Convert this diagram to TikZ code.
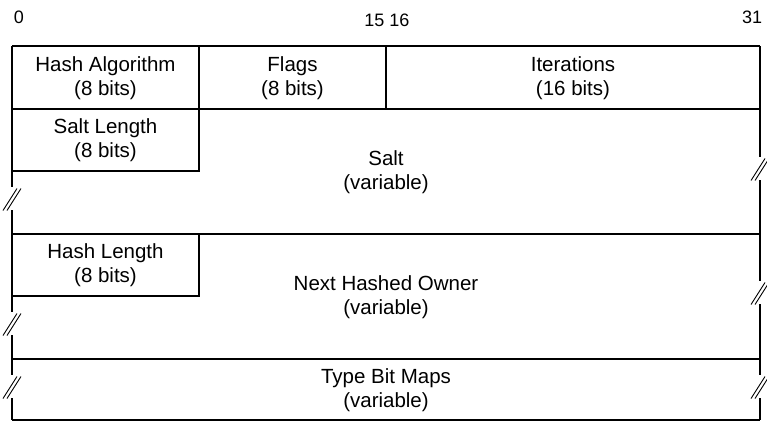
\documentclass[tikz,border=0pt]{standalone}
\usepackage{fontspec}
\setmainfont{Liberation Sans}
\begin{document}
\begin{tikzpicture}[x=1pt,y=-1pt,
  frame/.style={line width=1.3pt, black},
  brk/.style={line width=0.9pt, black},
  lbl/.style={align=center, inner sep=0pt, font=\fontsize{20.5}{24.5}\selectfont},
  num/.style={inner sep=0pt, font=\fontsize{18}{20}\selectfont}]
\useasboundingbox (0,0) rectangle (767,421);
% bit numbers
\node[num] (n0) at (19,17) {0};
\node[num] (n15) at (387,20) {15 16};
\node[num] (n31) at (752,17) {31};
% horizontal lines
\draw[frame] (12,46) -- (760,46);
\draw[frame] (12,109) -- (760,109);
\draw[frame] (199,46) -- (199,109);
\draw[frame] (386,46) -- (386,109);
\draw[frame] (12,171) -- (199,171) -- (199,109);
\draw[frame] (12,234) -- (760,234);
\draw[frame] (12,296) -- (199,296) -- (199,234);
\draw[frame] (12,359) -- (760,359);
\draw[frame] (12,420) -- (760,420);
% left vertical with breaks
\draw[frame] (12,46) -- (12,187) (12,210) -- (12,312) (12,335) -- (12,375) (12,398) -- (12,420);
% right vertical with breaks
\draw[frame] (760,46) -- (760,157) (760,180) -- (760,281) (760,304) -- (760,375) (760,398) -- (760,420);
% break marks
\foreach \x/\y in {12/198.5, 12/323.5, 12/386.5, 760/168.5, 760/292.5, 760/386.5}{
  \draw[brk] (\x-9,\y+12) -- (\x+5,\y-10);
  \draw[brk] (\x-5,\y+12) -- (\x+9,\y-10);
}
% labels
\node[lbl] (ha) at (105.5,78) {Hash Algorithm\\(8 bits)};
\node[lbl] (fl) at (292.5,78) {Flags\\(8 bits)};
\node[lbl] (it) at (573,78) {Iterations\\(16 bits)};
\node[lbl] (sl) at (105.5,140) {Salt Length\\(8 bits)};
\node[lbl] (sa) at (386,172) {Salt\\(variable)};
\node[lbl] (hl) at (105.5,265) {Hash Length\\(8 bits)};
\node[lbl] (nh) at (386,297) {Next Hashed Owner\\(variable)};
\node[lbl] (tb) at (386,390) {Type Bit Maps\\(variable)};
\end{tikzpicture}
\end{document}
